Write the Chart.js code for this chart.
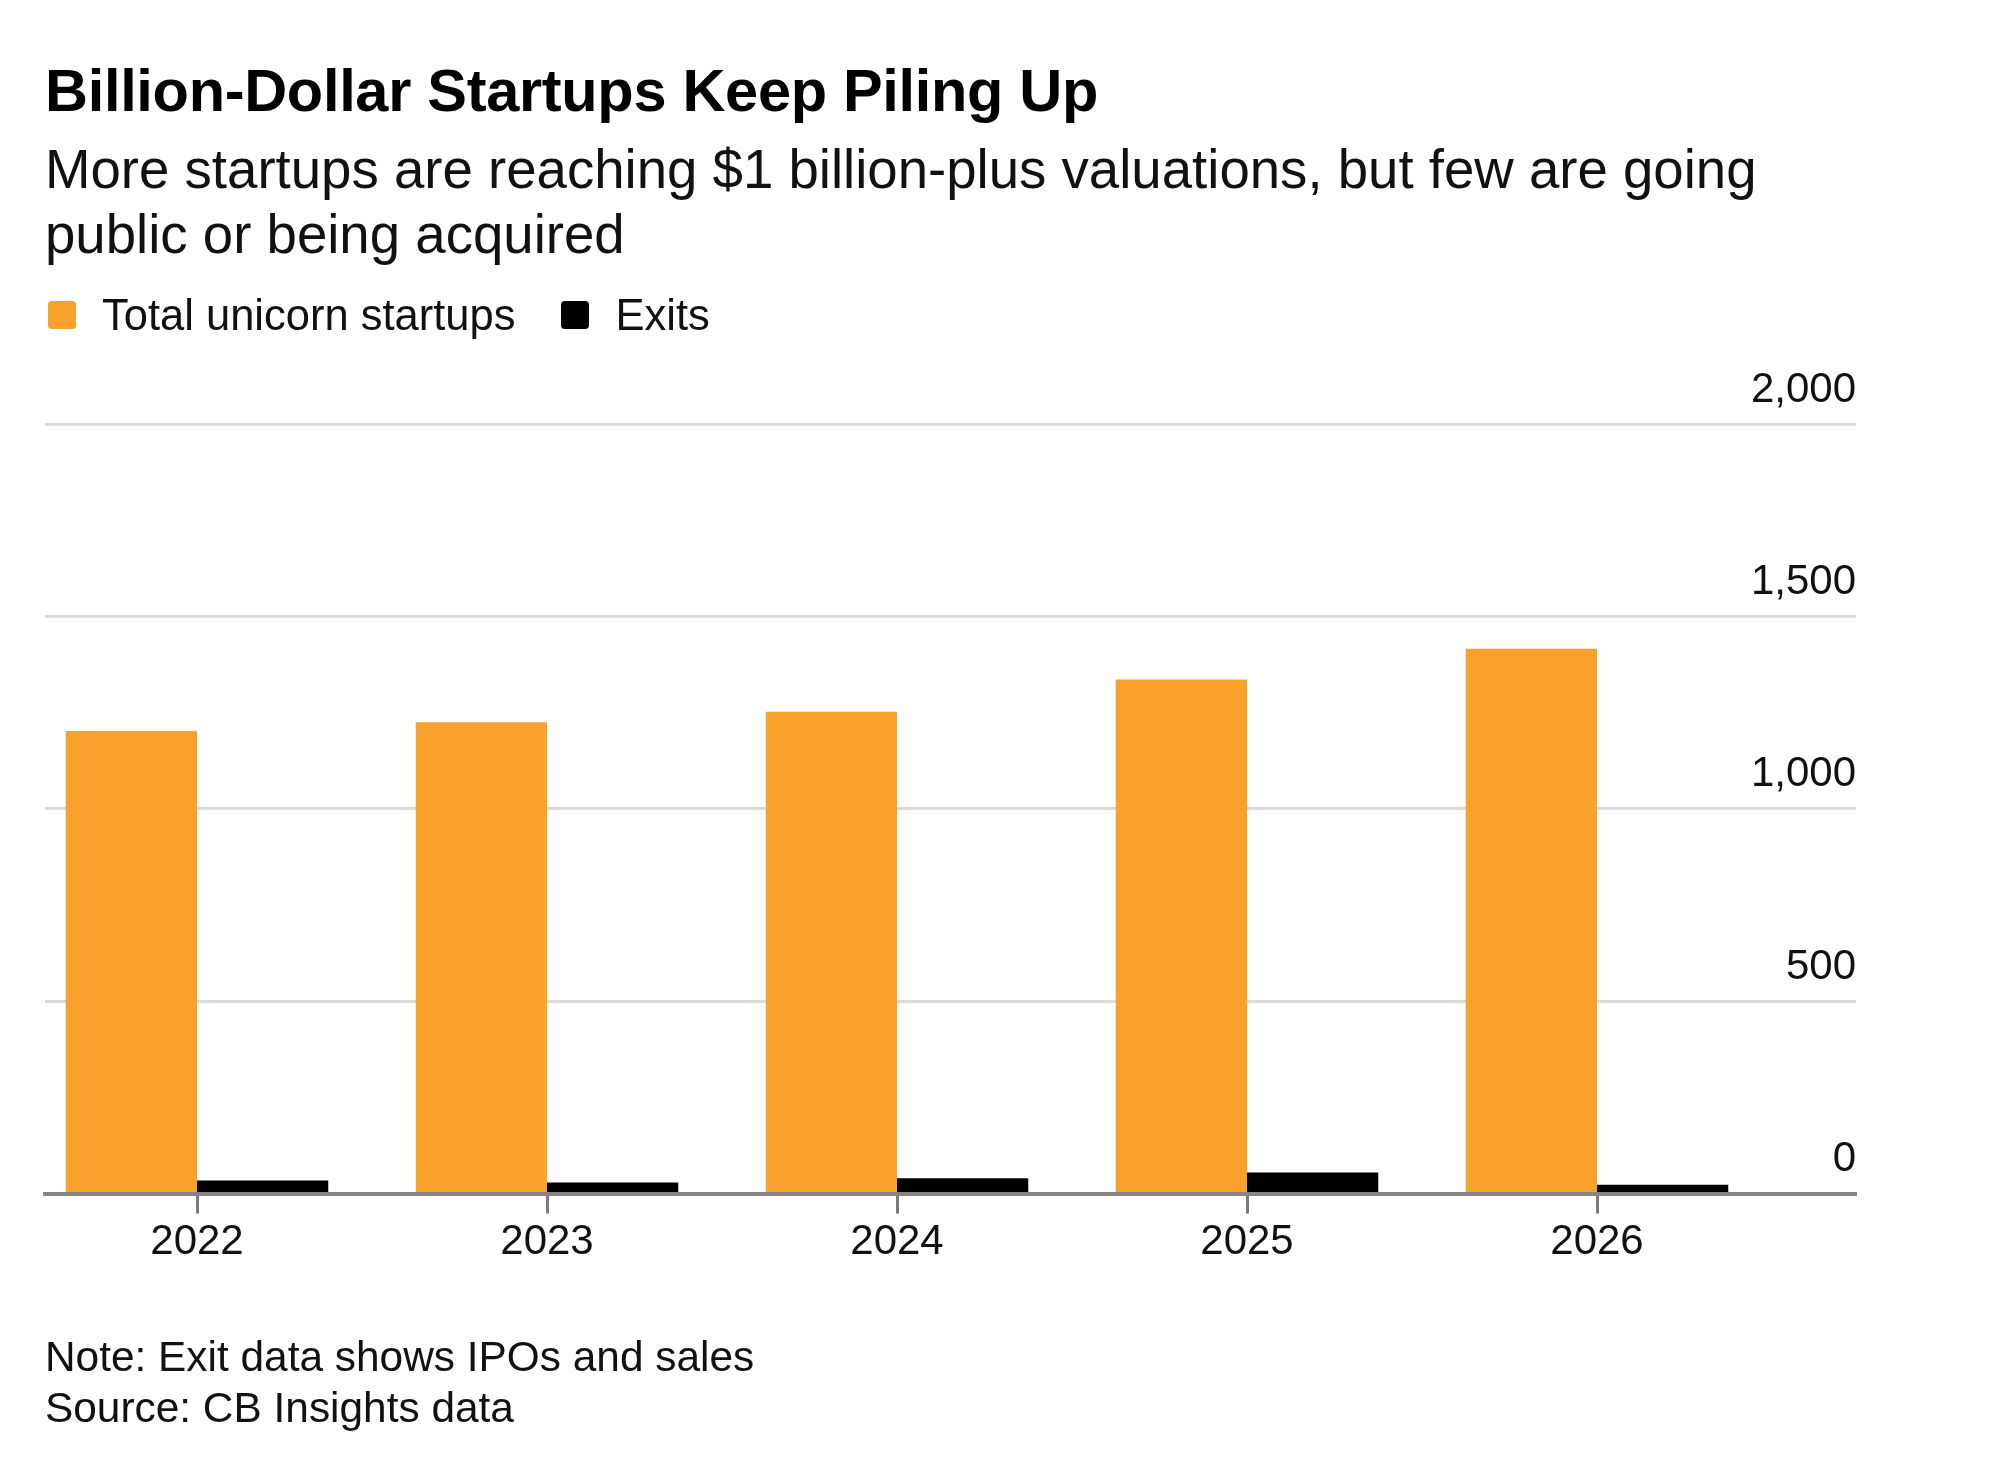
<!DOCTYPE html>
<html>
<head>
<meta charset="utf-8">
<script src="https://cdn.jsdelivr.net/npm/chart.js@4.4.1/dist/chart.umd.min.js"></script>
<style>
  html, body { margin: 0; padding: 0; background: #fff; }
  body { width: 2000px; height: 1470px; position: relative; overflow: hidden;
         font-family: "Liberation Sans", Arial, sans-serif; color: #111; }
  #chart { position: absolute; left: 0; top: 0; }
  .txt { position: absolute; left: 45px; white-space: nowrap; }
  #title { top: 61px; font-size: 59.5px; line-height: 60px; font-weight: bold; color: #000; letter-spacing: -0.3px; }
  #subtitle { top: 137px; font-size: 54.6px; line-height: 65px; }
  #legend { top: 294px; left: 48px; font-size: 43.5px; line-height: 42px; display: flex; }
  .item { display: flex; align-items: center; margin-right: 46px; }
  .box { width: 28px; height: 28px; border-radius: 4px; margin-right: 26px; }
  #notes { top: 1331px; font-size: 42.4px; line-height: 51px; }
</style>
</head>
<body>
<canvas id="chart" width="2000" height="1470"></canvas>
<div class="txt" id="title">Billion-Dollar Startups Keep Piling Up</div>
<div class="txt" id="subtitle">More startups are reaching $1 billion-plus valuations, but few are going<br>public or being acquired</div>
<div class="txt" id="legend"></div>
<div class="txt" id="notes">Note: Exit data shows IPOs and sales<br>Source: CB Insights data</div>
<script>
// Data
const years = [2022, 2023, 2024, 2025, 2026];
const totalUnicorns = [1202, 1225, 1252, 1336, 1416];
const exits = [34, 29, 40, 55, 23];
const seriesNames = ['Total unicorn startups', 'Exits'];
const seriesColors = ['#FAA02D', '#000000'];
const yTicks = [0, 500, 1000, 1500, 2000];

// Legend (HTML)
const legend = document.getElementById('legend');
seriesNames.forEach((name, i) => {
    const item = document.createElement('div');
    item.className = 'item';
    item.innerHTML = '<span class="box" style="background:' + seriesColors[i] + '"></span>' + name;
    legend.appendChild(item);
});

const ctx = document.getElementById('chart').getContext('2d');
new Chart(ctx, {
    type: 'bar',
    data: {
        datasets: [
            {
                label: seriesNames[0],
                data: years.map((y, i) => ({ x: y, y: totalUnicorns[i] })),
                backgroundColor: seriesColors[0],
                categoryPercentage: 0.75,
                barPercentage: 1.0
            },
            {
                label: seriesNames[1],
                data: years.map((y, i) => ({ x: y, y: exits[i] })),
                backgroundColor: seriesColors[1],
                categoryPercentage: 0.75,
                barPercentage: 1.0
            }
        ]
    },
    options: {
        responsive: false,
        animation: false,
        devicePixelRatio: 1,
        locale: 'en-US',
        layout: {
            padding: { top: 424, left: 45, right: 144, bottom: 198 }
        },
        plugins: {
            legend: { display: false },
            title: { display: false },
            tooltip: { enabled: false }
        },
        scales: {
            x: {
                type: 'linear',
                offset: false,
                min: 2021.5657,
                max: 2026.74,
                afterBuildTicks: (axis) => {
                    axis.ticks = years.map(v => ({ value: v }));
                },
                ticks: {
                    callback: (v) => String(v),
                    font: { family: 'Liberation Sans', size: 42 },
                    color: '#111',
                    padding: 4,
                    maxRotation: 0,
                    autoSkip: false
                },
                grid: {
                    offset: false,
                    drawOnChartArea: false,
                    drawTicks: true,
                    tickLength: 20,
                    tickWidth: 3,
                    tickColor: '#7a7a7a'
                },
                border: { display: true, color: '#858585', width: 4 }
            },
            y: {
                position: 'right',
                min: 0,
                max: 2000,
                afterBuildTicks: (axis) => {
                    axis.ticks = yTicks.map(v => ({ value: v }));
                },
                ticks: {
                    mirror: true,
                    padding: 0,
                    labelOffset: -34,
                    font: { family: 'Liberation Sans', size: 42 },
                    color: '#111'
                },
                grid: {
                    color: '#dadada',
                    lineWidth: 3,
                    drawTicks: false
                },
                border: { display: false }
            }
        }
    }
});
</script>
</body>
</html>
